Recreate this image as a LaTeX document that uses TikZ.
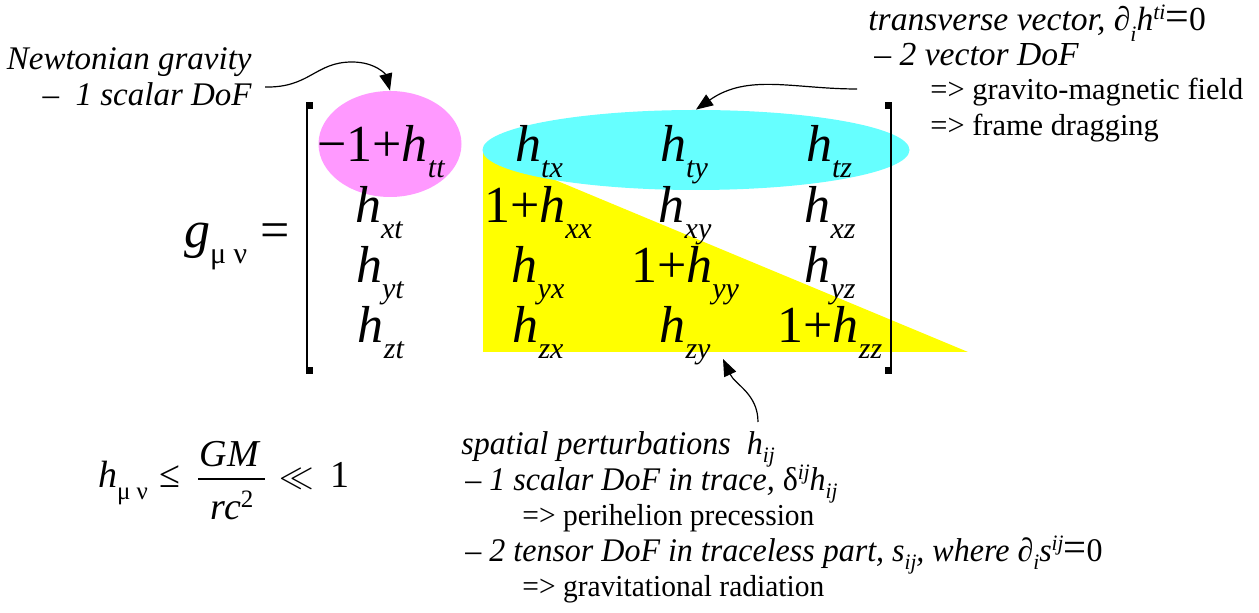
\documentclass[tikz,border=0pt]{standalone}
\usepackage{fontspec}
\setmainfont{Liberation Serif}
\newfontfamily\condfont[FakeStretch=0.97]{Liberation Serif}
\usetikzlibrary{shapes.geometric,arrows.meta}
\definecolor{pinkE}{HTML}{FF99FF}
\definecolor{cyanE}{HTML}{66FFFF}
\definecolor{yellowT}{HTML}{FFFF00}
\newcommand\lsub[2]{\raisebox{-0.3em}{\fontsize{#1}{#1}\selectfont\itshape #2}}
\newcommand\lsubb[2]{\raisebox{-0.24em}{\fontsize{#1}{#1}\selectfont\itshape #2}}
\newcommand\lsup[2]{\raisebox{0.34em}{\fontsize{#1}{#1}\selectfont\itshape #2}}
\newcommand\hM[1]{\textit{h}\lsub{15}{#1}}
\newcommand\bigeq[1]{{\fontsize{#1}{#1}\selectfont\upshape =}}
\begin{document}
\begin{tikzpicture}[x=0.5pt,y=-0.5pt,
  ent/.style={anchor=base,inner sep=0pt,font=\fontsize{26}{26}\selectfont},
  frm/.style={anchor=base,inner sep=0pt,font=\fontsize{19}{19}\selectfont},
  lbl/.style={anchor=base west,inner sep=0pt,font=\fontsize{15.2}{15.2}\selectfont},
  ilbl/.style={anchor=base west,inner sep=0pt,font=\fontsize{16.8}{16.8}\selectfont\itshape},
  nlbl/.style={anchor=base east,inner sep=0pt,font=\fontsize{16.5}{16.5}\selectfont\itshape},
  blbl/.style={anchor=base west,inner sep=0pt,font=\fontsize{15.2}{15.2}\condfont},
  bilbl/.style={anchor=base west,inner sep=0pt,font=\fontsize{16.5}{16.5}\condfont\itshape},
  arr/.style={-{Triangle[length=8.5pt,width=6.5pt]},line width=0.6pt},
  brk/.style={line width=1.4pt}]
\useasboundingbox (0,0) rectangle (1259,613);
% shapes
\fill[yellowT] (483,150) -- (483,352) -- (968,352) -- cycle;
\node[ellipse,fill=pinkE,minimum width=71.5pt,minimum height=53pt,inner sep=0pt] (pink) at (390,144) {};
\node[ellipse,fill=cyanE,minimum width=213.5pt,minimum height=40pt,inner sep=0pt] (cyan) at (696,150) {};
% matrix entries
\node[ent] (e11) at (381,162) {−1+\hM{tt}};
\node[ent] (e12) at (539,162) {\hM{tx}};
\node[ent] (e13) at (684,162) {\hM{ty}};
\node[ent] (e14) at (829,162) {\hM{tz}};
\node[ent] (e21) at (379,223) {\hM{xt}};
\node[ent] (e22) at (538,223) {1+\hM{xx}};
\node[ent] (e23) at (685,223) {\hM{xy}};
\node[ent] (e24) at (830,223) {\hM{xz}};
\node[ent] (e31) at (380,283) {\hM{yt}};
\node[ent] (e32) at (538,283) {\hM{yx}};
\node[ent] (e33) at (685,283) {1+\hM{yy}};
\node[ent] (e34) at (830,283) {\hM{yz}};
\node[ent] (e41) at (381,343) {\hM{zt}};
\node[ent] (e42) at (538,343) {\hM{zx}};
\node[ent] (e43) at (685,343) {\hM{zy}};
\node[ent] (e44) at (830,343) {1+\hM{zz}};
% brackets
\draw[brk] (307,104) -- (307,372);
\fill (306,102) rectangle (313,109);
\fill (306,367) rectangle (313,374);
\draw[brk] (891,104) -- (891,372);
\fill (885,102) rectangle (892,109);
\fill (885,367) rectangle (892,374);
% g_mu nu
\node[anchor=base east,inner sep=0pt,font=\fontsize{26}{26}\selectfont] (g) at (290,248) {\textit{g}\lsub{15}{\upshape μ ν} =};
% bottom-left formula
\node[frm] (hmn) at (123,488) {\textit{h}\lsub{12.5}{\upshape μ ν}};
\node[frm] (le) at (170,488) {≤};
\node[frm] (GM) at (230,467) {\textit{GM}};
\draw[line width=1pt] (198,479) -- (265,479);
\node[frm] (rc) at (232,520) {\textit{rc}\lsup{12.5}{\upshape 2}};
\node[frm,font=\fontsize{18}{18}\selectfont] (ll) at (297,488) {$\ll$};
\node[frm] (one) at (340,488) {1};
% labels
\node[nlbl] (nw1) at (252,70) {Newtonian gravity};
\node[nlbl] (nw2) at (252,106) {–\ \ 1 scalar DoF};
\node[ilbl] (tv1) at (868,31) {transverse vector, \upshape ∂\lsub{11}{i}\textit{h}\lsup{11}{ti}\bigeq{21}0};
\node[ilbl] (tv2) at (874,66) {– 2 vector DoF};
\node[lbl] (tv3) at (930,100) {=> gravito-magnetic field};
\node[lbl] (tv4) at (930,136) {=> frame dragging};
\node[bilbl] (sp1) at (461,455) {spatial perturbations\ \ \textit{h}\lsubb{11}{ij}};
\node[bilbl] (sp2) at (465,491) {– 1 scalar DoF in trace, \upshape δ\lsup{11}{ij}\textit{h}\lsubb{11}{ij}};
\node[blbl] (sp3) at (522,526) {=> perihelion precession};
\node[bilbl] (sp4) at (465,562) {– 2 tensor DoF in traceless part, s\lsubb{11}{ij}, where \upshape ∂\lsubb{11}{i}\textit{s}\lsup{11}{ij}\bigeq{21}0};
\node[blbl] (sp5) at (522,597) {=> gravitational radiation};
% connectors
\coordinate (nwA) at (265,87);
\coordinate (tvA) at (857,89);
\coordinate (spA) at (758,422);
\coordinate (triB) at (723,359);
\draw[arr] (nwA) .. controls (310,88) and (315,62) .. (352,62) .. controls (376,62) and (386,75) .. (pink.north);
\draw[arr] (tvA) to[out=180,in=35] (cyan.north);
\draw[arr] (spA) to[out=90,in=-65] (triB);
\end{tikzpicture}
\end{document}
